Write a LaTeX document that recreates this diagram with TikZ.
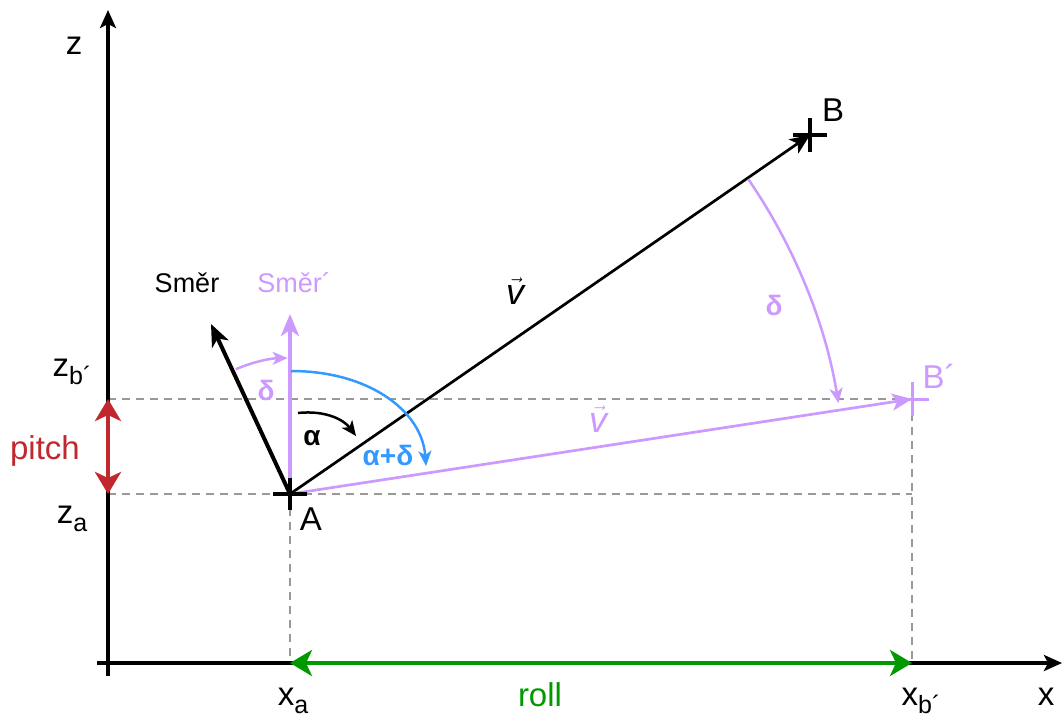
\documentclass[tikz,border=0pt]{standalone}
\usepackage{fontspec}
\setmainfont{Liberation Sans}
\usetikzlibrary{arrows.meta, positioning}

\definecolor{lilac}{HTML}{CC99FF}
\definecolor{skyblue}{HTML}{3399FF}
\definecolor{pitchred}{HTML}{C0282D}
\definecolor{rollgreen}{HTML}{009900}
\definecolor{guidegray}{HTML}{999999}

% lowered subscript in text font
\newcommand{\lowsub}[1]{\raisebox{-0.45ex}{\fontsize{25}{27}\selectfont #1}}

\begin{document}
\begin{tikzpicture}[
    x=1pt, y=-1pt,
    axis/.style={line width=3.5pt, -{Stealth[length=18pt, width=16pt, inset=4pt]}},
    guide/.style={draw=guidegray, line width=1.6pt, dash pattern=on 8pt off 6pt},
    vec/.style={line width=2.7pt, -{Stealth[length=20pt, width=17pt, inset=5pt]}},
    dir/.style={line width=4pt, -{Stealth[length=22pt, width=18pt, inset=6pt]}},
    span/.style={line width=4pt, {Stealth[length=22pt, width=26pt, inset=6pt]}-{Stealth[length=22pt, width=26pt, inset=6pt]}},
    turn/.style={line width=2.5pt, -{Stealth[length=15pt, width=13pt, inset=4pt]}},
    lbl/.style={inner sep=0pt, font=\fontsize{33}{36}\selectfont},
    small/.style={inner sep=0pt, font=\fontsize{27}{30}\selectfont},
    greek/.style={inner sep=0pt, font=\bfseries\fontsize{28}{30}\selectfont},
  ]
    \useasboundingbox (0,0) rectangle (1062,717);

    % points
    \coordinate (O) at (108,663);
    \coordinate (A) at (290,494);
    \coordinate (B) at (810,135);
    \coordinate (Bp) at (912,399);
    \coordinate (zend) at (108,10);
    \coordinate (zbot) at (108,676);
    \coordinate (xend) at (1062,663);
    \coordinate (xbot) at (97,663);
    \coordinate (smer) at (211,324);
    \coordinate (smerp) at (290,314);

    % dashed guides
    \draw[guide] (O |- Bp) -- (Bp);
    \draw[guide] (O |- A) -- (Bp |- A);
    \draw[guide] (A) -- (A |- O);
    \draw[guide] (Bp) -- (Bp |- O);

    % axes
    \draw[axis] (zbot) -- (zend);
    \draw[axis] (xbot) -- (xend);

    % pitch and roll
    \draw[span, pitchred] (O |- Bp) -- (O |- A);
    \draw[span, rollgreen] (A |- O) -- (Bp |- O);

    % directions
    \draw[dir, lilac] (A) -- (smerp);
    \draw[dir] (A) -- (smer);

    % vectors
    \draw[vec] (A) -- (B);
    \draw[vec, lilac] (A) -- (Bp);

    % crosses
    \draw[line width=4.5pt] (B) ++(-17,0) -- ++(34,0);
    \draw[line width=4.5pt] (B) ++(0,-17) -- ++(0,34);
    \draw[line width=3pt, lilac] (Bp) ++(-17,0) -- ++(34,0);
    \draw[line width=3pt, lilac] (Bp) ++(0,-17) -- ++(0,34);
    \draw[line width=4.5pt] (A) ++(-17,0) -- ++(34,0);
    \draw[line width=4.5pt] (A) ++(0,-16) -- ++(0,32);

    % angles
    \draw[turn, lilac] (A) ++(-113.5:136) arc[start angle=-113.5, end angle=-91, radius=136];
    \draw[turn, lilac] (A) ++(-34.5:556) arc[start angle=-34.5, end angle=-9.4, radius=556];
    \draw[turn, skyblue] (A) ++(1,-123) .. controls +(78,0) and +(-4,-55) .. ++(135,95);
    \draw[turn] (A) ++(8,-81) .. controls +(28,-3) and +(-12,-16) .. ++(58,23);

    % labels
    \node[lbl] (zlbl) at (74,46) {z};
    \node[lbl] (xlbl) at (1046,697) {x};
    \node[lbl] (zblbl) at (72,372) {z\lowsub{b´}};
    \node[lbl] (zalbl) at (72,519) {z\lowsub{a}};
    \node[lbl] (xalbl) at (293,701) {x\lowsub{a}};
    \node[lbl] (xblbl) at (921,701) {x\lowsub{b´}};
    \node[lbl, text=pitchred] (pitchlbl) at (45,451) {pitch};
    \node[lbl, text=rollgreen] (rolllbl) at (540,695) {roll};
    \node[lbl] (Albl) at (311,519) {A};
    \node[lbl] (Blbl) at (833,110) {B};
    \node[lbl, text=lilac] (Bplbl) at (939,376) {B´};
    \node[small] (smerlbl) at (187,283) {Směr};
    \node[small, text=lilac] (smerplbl) at (294,283) {Směr´};
    \node[greek, text=lilac] (dsmall) at (266,390) {δ};
    \node[greek] (alpha) at (312,438) {α};
    \node[greek, text=skyblue] (apd) at (388,455) {α+δ};
    \node[greek, text=lilac] (dbig) at (774,305) {δ};
    \node[lbl, font=\fontsize{36}{38}\selectfont] (vlbl) at (515,291) {$\vec{\textit{v}}$};
    \node[lbl, font=\fontsize{36}{38}\selectfont, text=lilac] (vplbl) at (598,419) {$\vec{\textit{v}}$};
  \end{tikzpicture}
\end{document}
